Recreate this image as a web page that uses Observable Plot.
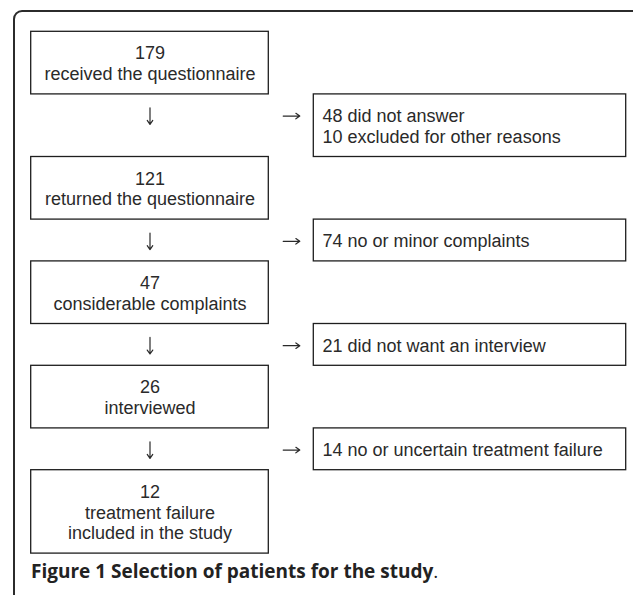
<!DOCTYPE html>
<html>
<head>
<meta charset="utf-8">
<script src="https://cdn.jsdelivr.net/npm/d3@7"></script>
<script src="https://cdn.jsdelivr.net/npm/@observablehq/plot@0.6"></script>
<style>
  html, body { margin: 0; padding: 0; background: #fff; }
  #wrap { position: relative; width: 633px; height: 595px; overflow: hidden; background: #fff; }
  #frame { position: absolute; left: 13px; top: 10px; width: 628px; height: 700px;
           border-top: 2px solid #2b2b2b; border-left: 2px solid #2b2b2b; border-right: 2px solid #2b2b2b;
           border-top-left-radius: 9px; border-top-right-radius: 9px; box-sizing: border-box; }
  #chart { position: absolute; left: 0; top: 0; }
  #caption { position: absolute; left: 31px; top: 559px; font-family: "Open Sans", sans-serif;
             font-size: 19px; line-height: 24px; color: #222; white-space: nowrap; }
  #caption b { font-weight: 700; }
</style>
</head>
<body>
<div id="wrap">
  <div id="frame"></div>
  <div id="chart"></div>
  <div id="caption"><b>Figure 1 Selection of patients for the study</b>.</div>
</div>
<script>
// Flow counts (main column) and their labels
const leftCounts = [179, 121, 47, 26, 12];
const leftLabels = [
  "received the questionnaire",
  "returned the questionnaire",
  "considerable complaints",
  "interviewed",
  "treatment failure\nincluded in the study"
];
// Exclusions at each step (side column)
const sideLabels = [
  "48 did not answer\n10 excluded for other reasons",
  "74 no or minor complaints",
  "21 did not want an interview",
  "14 no or uncertain treatment failure"
];

// Layout derived from number of text lines
const W = 633, H = 595;
const lineH = 20.8, pad = 21;
const leftX1 = 30.7, leftX2 = 268.3, rightX1 = 313.3, rightX2 = 625.7;
const downX = 149.5, rightArrowX = 291, sideTextX = 322;
const arrowHalf = 8.3;

const leftBoxes = [], sideBoxes = [], downArrows = [], rightArrows = [];
let cursor = 31.3;
leftCounts.forEach((c, i) => {
  const text = c + "\n" + leftLabels[i];
  const n = text.split("\n").length;
  const h = n * lineH + pad;
  leftBoxes.push({x1: leftX1, x2: leftX2, y1: cursor, y2: cursor + h, text, cx: downX, cy: cursor + h / 2});
  cursor += h;
  if (i < sideLabels.length) {
    const t = sideLabels[i];
    const m = t.split("\n").length;
    const hs = m * lineH + pad;
    sideBoxes.push({x1: rightX1, x2: rightX2, y1: cursor, y2: cursor + hs, text: t, tx: sideTextX, cy: cursor + hs / 2});
    const ay = cursor + (lineH + pad) / 2 + 0.8;
    downArrows.push({x1: downX, x2: downX, y1: ay - arrowHalf, y2: ay + arrowHalf});
    rightArrows.push({x1: rightArrowX - arrowHalf, x2: rightArrowX + arrowHalf, y1: ay, y2: ay});
    cursor += hs;
  }
});

const font = "'Liberation Sans', Arial, sans-serif";
const ink = "#2a2a2a";

const chart = Plot.plot({
  width: W, height: H, margin: 0,
  x: {type: "identity", axis: null},
  y: {type: "identity", axis: null},
  style: {fontFamily: font, background: "transparent", overflow: "visible"},
  marks: [
    Plot.rect(leftBoxes, {x1: "x1", x2: "x2", y1: "y1", y2: "y2", fill: "white", stroke: "#1e1e1e", strokeWidth: 1.3}),
    Plot.rect(sideBoxes, {x1: "x1", x2: "x2", y1: "y1", y2: "y2", fill: "white", stroke: "#1e1e1e", strokeWidth: 1.3}),
    Plot.text(leftBoxes, {x: "cx", y: "cy", text: "text", fontSize: 18, lineHeight: lineH / 18, fill: ink, textAnchor: "middle"}),
    Plot.text(sideBoxes, {x: "tx", y: "cy", text: "text", fontSize: 18, lineHeight: lineH / 18, fill: ink, textAnchor: "start"}),
    Plot.arrow(downArrows, {x1: "x1", y1: "y1", x2: "x2", y2: "y2", stroke: ink, strokeWidth: 1.2, headLength: 6, headAngle: 70}),
    Plot.arrow(rightArrows, {x1: "x1", y1: "y1", x2: "x2", y2: "y2", stroke: ink, strokeWidth: 1.2, headLength: 6, headAngle: 70})
  ]
});
document.getElementById("chart").appendChild(chart);
</script>
</body>
</html>
